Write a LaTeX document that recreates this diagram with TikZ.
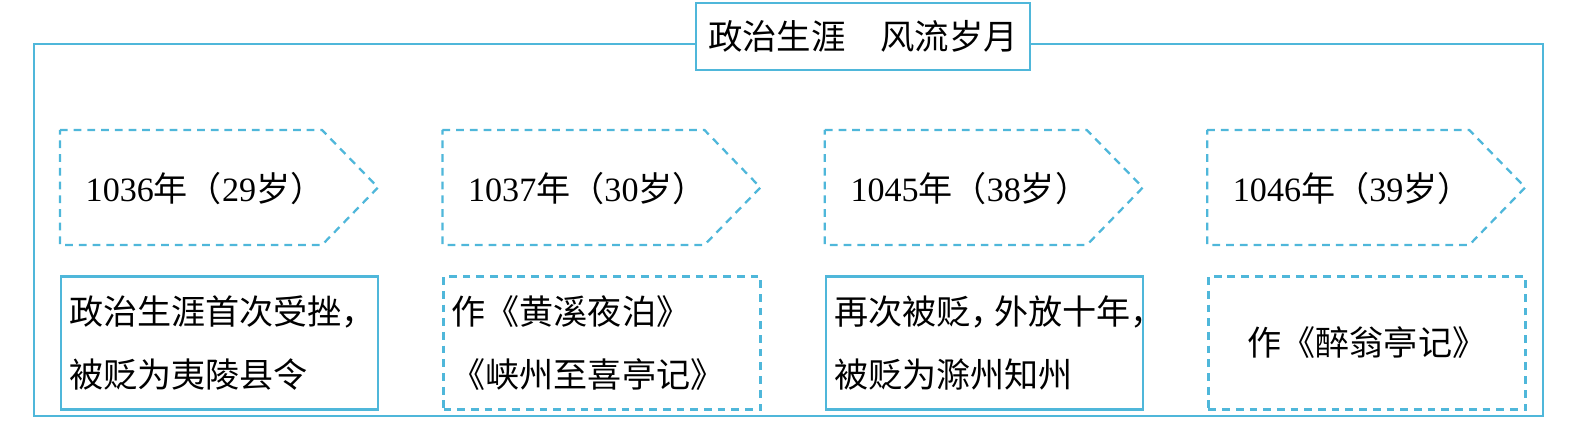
\documentclass[tikz,border=0pt]{standalone}
\usepackage{fontspec}
\setmainfont{Liberation Serif}
\newfontfamily\cjk{Noto Sans CJK SC}
\usepackage{tikz}
\usetikzlibrary{positioning,calc}
\definecolor{frame}{HTML}{4FB7DA}
\newcommand{\yearage}[2]{#1{\cjk 年（}#2{\cjk 岁）}}

\begin{document}
\begin{tikzpicture}[font=\fontsize{9.7}{17.9}\selectfont,
  yearbox/.style={minimum height=1.15cm, text width=2.6cm, inner xsep=0.25cm, inner ysep=0pt, align=left},
  dashline/.style={draw=frame, line width=0.65pt, dash pattern=on 2.2pt off 1.7pt},
  notebox/.style={minimum width=3.17cm, minimum height=1.33cm, text width=3.01cm, inner xsep=0.08cm, inner ysep=0pt, align=left, font=\fontsize{9.7}{17.9}\selectfont\cjk},
  solidline/.style={draw=frame, line width=0.7pt}]
\useasboundingbox (0,0) rectangle (15.71,4.34);
\draw[solidline] (0.34,0.18) rectangle (15.43,3.90);
\node[solidline, fill=white, minimum width=3.34cm, minimum height=0.67cm, inner sep=0pt, font=\fontsize{9.8}{12}\selectfont\cjk] (title) at (8.63,3.975) {政治生涯　风流岁月};
% year markers
\node[yearbox, anchor=north west] (y1) at (0.60,3.04) {\yearage{1036}{29}};
\node[yearbox, right=0.71cm of y1] (y2) {\yearage{1037}{30}};
\node[yearbox, right=0.71cm of y2] (y3) {\yearage{1045}{38}};
\node[yearbox, right=0.71cm of y3] (y4) {\yearage{1046}{39}};
\foreach \y in {y1,y2,y3,y4}
  \draw[dashline] (\y.north west) -- ++(2.62,0) -- ++(0.56,-0.575) -- ++(-0.56,-0.575) -- ++(-2.62,0) -- cycle;
% events
\node[notebox, solidline, below=0.29cm of y1.south west, anchor=north west] (n1) {政治生涯首次受挫，\\被贬为夷陵县令};
\node[notebox, dashline, below=0.29cm of y2.south west, anchor=north west] (n2) {作《黄溪夜泊》\\《峡州至喜亭记》};
\node[notebox, solidline, below=0.29cm of y3.south west, anchor=north west] (n3) {再次被贬，\kern-0.3em外放十年，\\被贬为滁州知州};
\node[notebox, dashline, align=center, below=0.29cm of y4.south west, anchor=north west] (n4) {作《醉翁亭记》};
\end{tikzpicture}
\end{document}
